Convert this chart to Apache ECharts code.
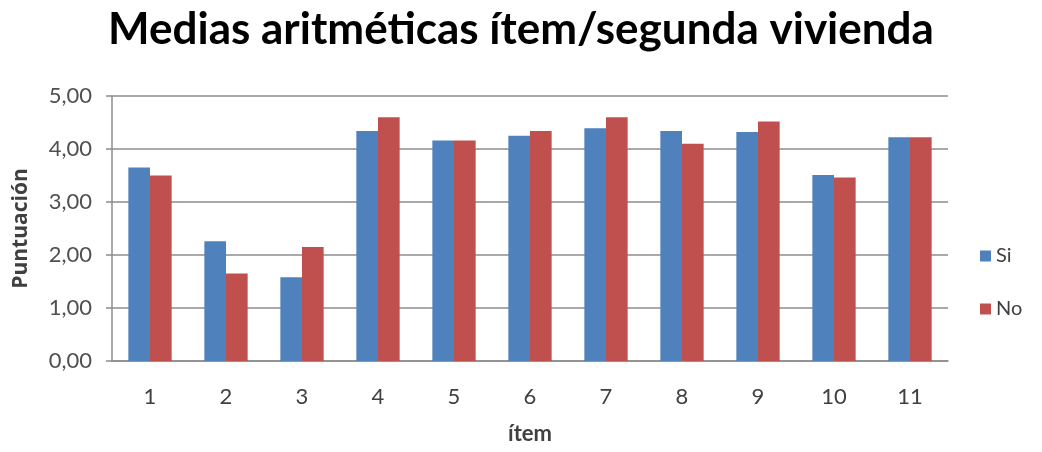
<!DOCTYPE html>
<html>
<head>
<meta charset="utf-8">
<script src="https://cdn.jsdelivr.net/npm/echarts@6/dist/echarts.min.js"></script>
<style>
  html, body { margin: 0; padding: 0; background: #ffffff; }
  #chart { width: 1042px; height: 452px; }
</style>
</head>
<body>
<div id="chart"></div>
<script>
// Item numbers on the horizontal axis
const items = ['1', '2', '3', '4', '5', '6', '7', '8', '9', '10', '11'];
// Mean scores per item, by whether a second home is owned
const siValues = [3.65, 2.26, 1.58, 4.34, 4.16, 4.25, 4.39, 4.34, 4.32, 3.51, 4.22];
const noValues = [3.50, 1.65, 2.15, 4.60, 4.16, 4.34, 4.60, 4.10, 4.52, 3.46, 4.22];
const seriesNames = ['Si', 'No'];

const chart = echarts.init(document.getElementById('chart'));
const fontFamily = 'Lato, "Open Sans", sans-serif';

chart.setOption({
  animation: false,
  textStyle: { fontFamily: fontFamily },
  title: {
    text: 'Medias aritméticas ítem/segunda vivienda',
    left: 'center',
    top: 3,
    textStyle: { fontFamily: fontFamily, fontSize: 44, fontWeight: 'bold', color: '#000000' }
  },
  legend: {
    orient: 'vertical',
    left: 975,
    top: 241,
    itemWidth: 11,
    itemHeight: 11,
    itemGap: 33,
    icon: 'rect',
    textStyle: { fontSize: 20, color: '#404040', fontFamily: fontFamily },
    data: seriesNames
  },
  grid: { left: 112, right: 94, top: 96, bottom: 91, containLabel: false },
  xAxis: {
    type: 'category',
    data: items,
    name: 'ítem',
    nameLocation: 'middle',
    nameGap: 62,
    nameTextStyle: { fontSize: 22, fontWeight: 'bold', color: '#404040' },
    axisLine: { show: true, lineStyle: { color: '#8c8c8c', width: 1.5 } },
    axisTick: { show: false },
    axisLabel: { fontSize: 22, color: '#404040', margin: 25 }
  },
  yAxis: {
    type: 'value',
    min: 0,
    max: 5,
    interval: 1,
    name: 'Puntuación',
    nameLocation: 'middle',
    nameGap: 80,
    nameRotate: 90,
    nameTextStyle: { fontFamily: '"Open Sans", sans-serif', fontSize: 21, fontWeight: 'bold', color: '#404040' },
    axisLine: { show: true, lineStyle: { color: '#8c8c8c', width: 1.5 } },
    axisTick: { show: true, length: 6, lineStyle: { color: '#8c8c8c', width: 1.5 } },
    splitLine: { show: true, lineStyle: { color: '#8c8c8c', width: 1.5 } },
    axisLabel: {
      fontSize: 22,
      color: '#505050',
      margin: 20,
      formatter: function (v) { return v.toFixed(2).replace('.', ','); }
    }
  },
  series: [
    {
      name: seriesNames[0],
      type: 'bar',
      data: siValues,
      barGap: '0%',
      barCategoryGap: '43%',
      itemStyle: { color: '#4F81BD' }
    },
    {
      name: seriesNames[1],
      type: 'bar',
      data: noValues,
      barGap: '0%',
      barCategoryGap: '43%',
      itemStyle: { color: '#C0504D' }
    }
  ]
});
</script>
</body>
</html>
